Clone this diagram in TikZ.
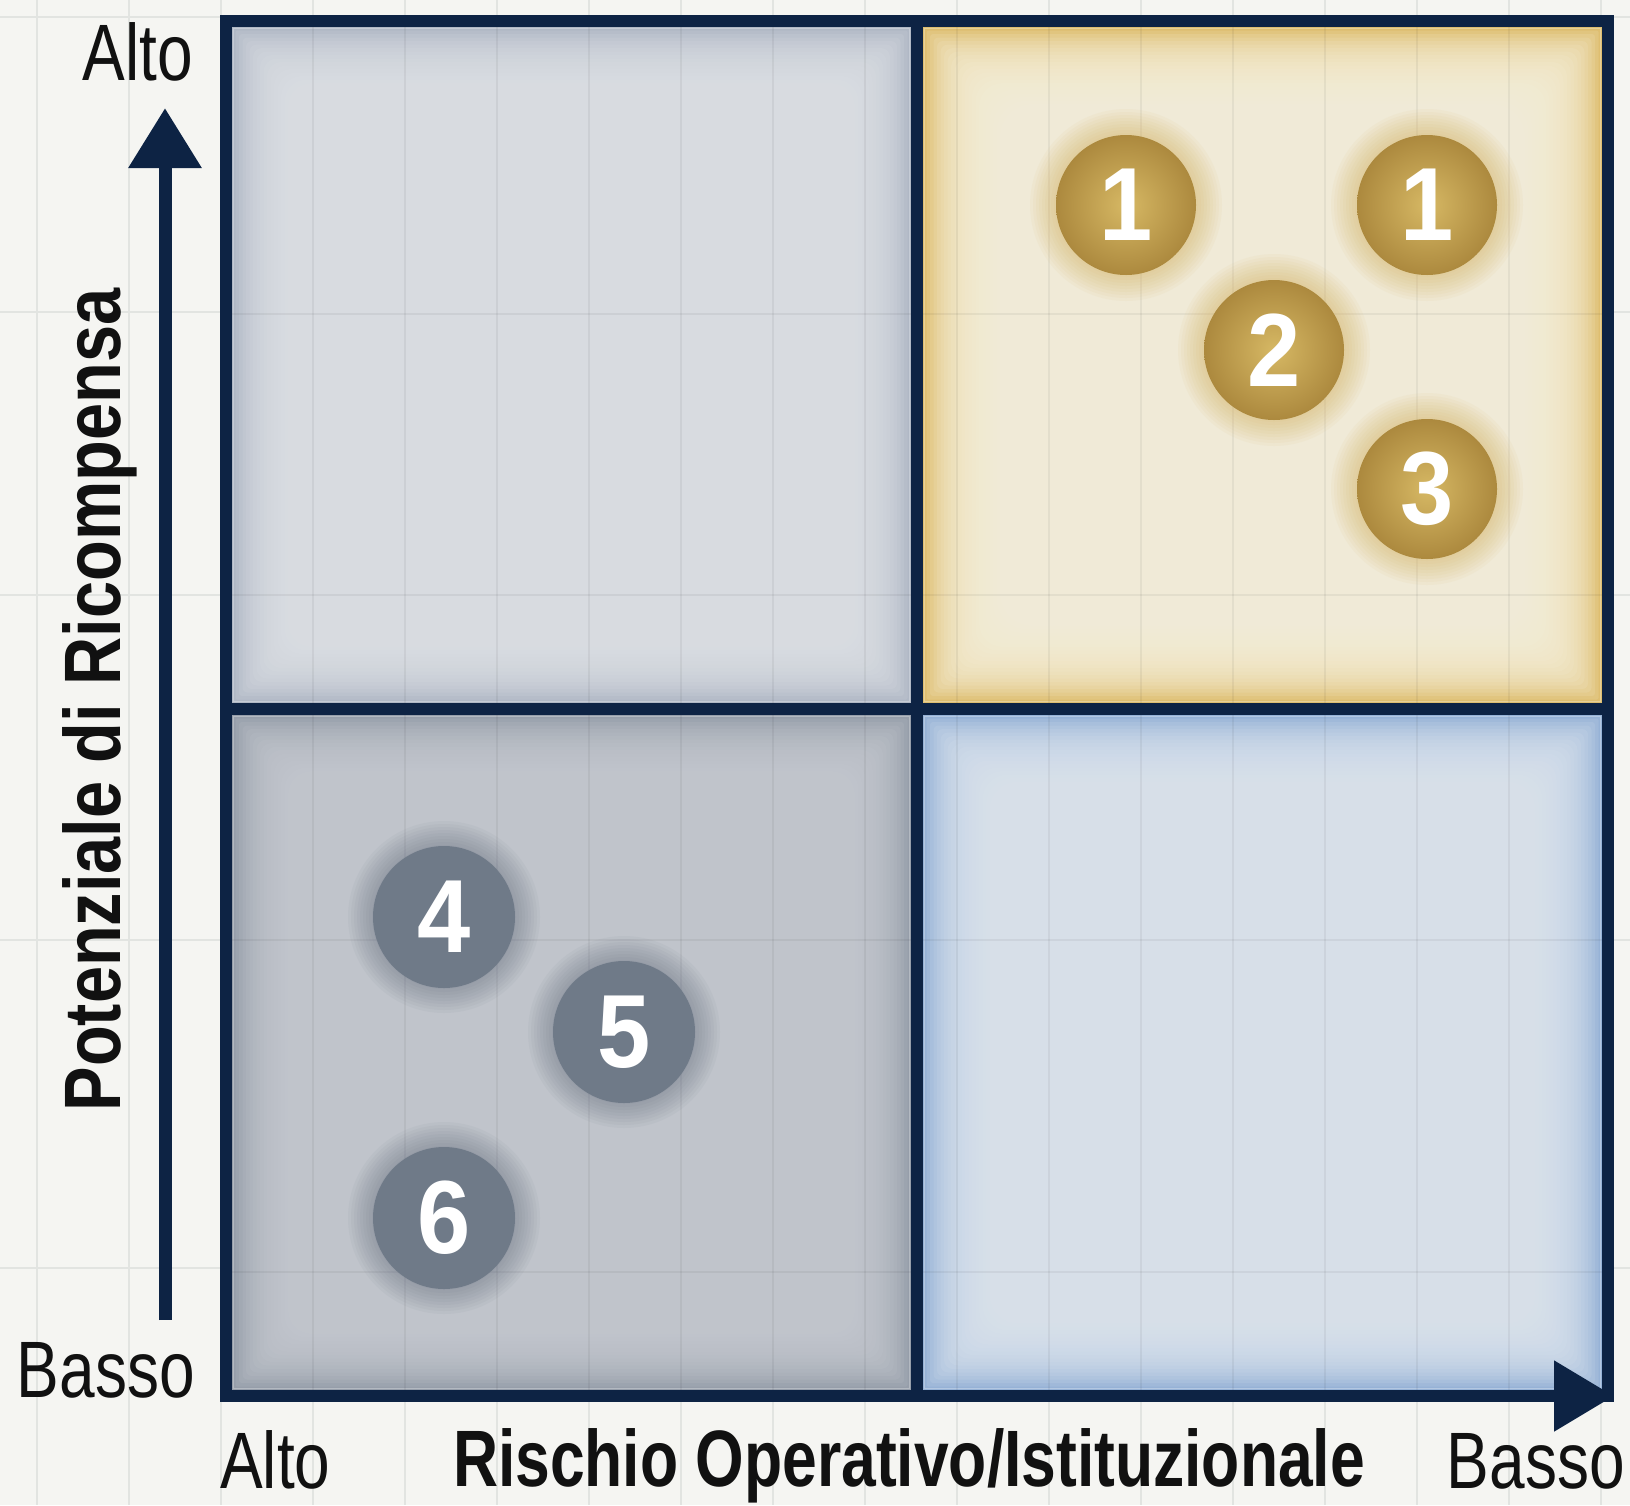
\documentclass[tikz,border=0pt]{standalone}
\usepackage{fontspec}
\usepackage{graphicx}
\usetikzlibrary{arrows.meta,calc}
\newfontfamily\labelfont{Liberation Sans}[FakeStretch=0.80]
\newfontfamily\digitfont{Liberation Sans}[FakeStretch=0.92]
\definecolor{navy}{RGB}{13,35,68}
\definecolor{bgc}{RGB}{245,245,242}
\definecolor{gridc}{RGB}{226,228,225}
\definecolor{tledge}{RGB}{176,184,197}
\definecolor{tlcen}{RGB}{223,226,231}
\definecolor{tredge}{RGB}{222,190,112}
\definecolor{trcen}{RGB}{247,241,222}
\definecolor{bledge}{RGB}{150,158,170}
\definecolor{blcen}{RGB}{199,203,210}
\definecolor{bredge}{RGB}{150,178,214}
\definecolor{brcen}{RGB}{222,230,239}
\definecolor{goldin}{RGB}{214,184,100}
\definecolor{goldout}{RGB}{172,137,62}
\definecolor{goldglow}{RGB}{210,172,80}
\definecolor{grayball}{RGB}{111,122,136}
\definecolor{grayshadow}{RGB}{95,105,122}
\definecolor{inkc}{RGB}{17,17,17}
\newcommand{\quadfill}[6]{%
  \fill[#5] (#1,#2) rectangle (#3,#4);
  \foreach \k in {1,...,24}{
    \fill[#6,opacity=0.14,rounded corners=\k*1.5pt] ({#1+6+\k*3.5},{#2+6+\k*3.5}) rectangle ({#3-6-\k*3.5},{#4-6-\k*3.5});
  }
  \draw[white,opacity=0.28,line width=1.5pt] ({#1+7.5},{#2+7.5}) rectangle ({#3-7.5},{#4-7.5});
}
\newcommand{\glowat}[2]{%
  \foreach \r in {96,93,...,69}{
    \fill[#2,opacity=0.055] (#1) circle[radius=\r];
  }
}
\tikzset{
  lab/.style={inner sep=0pt, text=inkc, font=\labelfont\fontsize{80}{90}\selectfont},
  boldlab/.style={inner sep=0pt, text=inkc, font=\labelfont\bfseries\fontsize{80}{90}\selectfont},
  goldball/.style={circle, minimum size=140pt, inner sep=0pt, shading=radial, inner color=goldin, outer color=goldout, text=white, font=\digitfont\bfseries\fontsize{104}{110}\selectfont},
  grayball/.style={circle, minimum size=142pt, inner sep=0pt, fill=grayball, text=white, font=\digitfont\bfseries\fontsize{104}{110}\selectfont},
  gridline/.style={line width=2pt, draw=gridc},
  innergrid/.style={line width=2pt, draw=black, draw opacity=0.05},
  frame/.style={line width=12pt, draw=navy},
  axis/.style={line width=13pt, draw=navy, -{Triangle[length=60pt,width=70pt]}}
}
\begin{document}
\begin{tikzpicture}[x=1pt,y=-1pt]
\useasboundingbox (0,0) rectangle (1630,1505);
\fill[bgc] (0,0) rectangle (1630,1505);
% background grid
\foreach \gx in {37,129,...,1630}{ \draw[gridline] (\gx,0) -- (\gx,1505); }
\foreach \gy in {17,312,595,940,1268}{ \draw[gridline] (0,\gy) -- (1630,\gy); }
% quadrants
\quadfill{226}{21}{917}{709}{tledge}{tlcen}
\quadfill{917}{21}{1608}{709}{tredge}{trcen}
\quadfill{226}{709}{917}{1396}{bledge}{blcen}
\quadfill{917}{709}{1608}{1396}{bredge}{brcen}
% inner grid
\begin{scope}
\clip (226,21) rectangle (1608,1396);
\foreach \gx in {313,405,...,1600}{ \draw[innergrid] (\gx,21) -- (\gx,1396); }
\foreach \gy in {314,595,940,1272}{ \draw[innergrid] (226,\gy) -- (1608,\gy); }
\end{scope}
% frame
\draw[frame] (226,21) rectangle (1608,1396);
\draw[frame] (917,21) -- (917,1396);
\draw[frame] (226,709) -- (1608,709);
% axes
\coordinate (ybot) at (165,1320);
\coordinate (ytop) at (165,108);
\draw[axis] (ybot) -- (ytop);
\coordinate (xa) at (1500,1396);
\coordinate (xb) at (1614,1396);
\draw[line width=12pt, draw=navy, -{Triangle[length=60pt,width=68pt]}] (xa) -- (xb);
% gold balls
\coordinate (c1) at (1126,205);
\coordinate (c2) at (1427,205);
\coordinate (c3) at (1274,350);
\coordinate (c4) at (1427,489);
\glowat{c1}{goldglow}
\glowat{c2}{goldglow}
\glowat{c3}{goldglow}
\glowat{c4}{goldglow}
\node[goldball] (b1) at (c1) {1};
\node[goldball] (b1b) at (c2) {1};
\node[goldball] (b2) at (c3) {2};
\node[goldball] (b3) at (c4) {3};
% gray balls
\coordinate (d4) at (444,917);
\coordinate (d5) at (624,1032);
\coordinate (d6) at (444,1218);
\glowat{d4}{grayshadow}
\glowat{d5}{grayshadow}
\glowat{d6}{grayshadow}
\node[grayball] (b4) at (d4) {4};
\node[grayball] (b5) at (d5) {5};
\node[grayball] (b6) at (d6) {6};
% labels
\node[lab, anchor=base east] (ytoplab) at (193,80) {Alto};
\node[lab, anchor=base east] (ybotlab) at (195,1397) {Basso};
\node[lab, anchor=base west] (xleftlab) at (220,1488) {Alto};
\node[lab, anchor=base east] (xrightlab) at (1625,1488) {Basso};
\node[boldlab, anchor=base] (xtitle) at (909,1486) {\scalebox{0.975}[1]{Rischio Operativo/Istituzionale}};
\node[boldlab, anchor=base, rotate=90] (ytitle) at (120,700) {\scalebox{1.042}[1]{Potenziale di Ricompensa}};
\end{tikzpicture}
\end{document}
